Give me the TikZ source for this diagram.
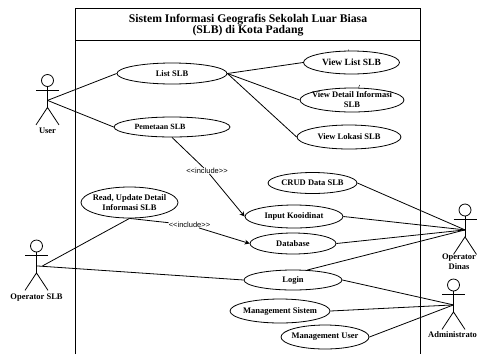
\documentclass[tikz,border=0pt]{standalone}
\usepackage{fontspec}
\setmainfont{Liberation Serif}
\setsansfont{Liberation Sans}
\usetikzlibrary{arrows.meta, shapes.geometric}
\tikzset{
 usecase/.style={draw, ellipse, inner sep=-25pt, thick, font=\fontsize{8.5}{10}\selectfont\bfseries, align=center},
 actorname/.style={font=\fontsize{8.5}{10}\selectfont\bfseries, align=center, inner sep=0pt},
 includetag/.style={font=\sffamily\fontsize{7.5}{8}\selectfont, inner sep=0pt, fill=white},
 assoc/.style={thick},
 includes/.style={thick, -{Stealth[length=5pt,width=5pt]}},
}
% #1 name, #2 head position
\newcommand{\actorfig}[2]{
 \node[draw, thick, circle, minimum size=12pt, inner sep=0pt] (#1head) at (#2) {};
 \coordinate (#1) at ([yshift=-13.5pt]#1head.south);
 \coordinate (#1hip) at ([yshift=-20.5pt]#1head.south);
 \draw[thick] (#1head.south) -- (#1hip);
 \draw[thick] ([xshift=-11.5pt,yshift=-3pt]#1head.south) -- ([xshift=11.5pt,yshift=-3pt]#1head.south);
 \draw[thick] ([xshift=-11.5pt,yshift=-17.5pt]#1hip) -- (#1hip) -- ([xshift=11.5pt,yshift=-17.5pt]#1hip);
}

\begin{document}
\begin{tikzpicture}[x=1pt,y=-1pt]
 \useasboundingbox (0,0) rectangle (478,354);
 % system box, open at the bottom
 \draw[thick] (75.5,354) -- (75.5,8) -- (420.5,8) -- (420.5,354);
 \draw[thick] (75.5,40.5) -- (420.5,40.5);
 \node[font=\fontsize{11.7}{11}\selectfont\bfseries, align=center] (title) at (248,25)
  {Sistem Informasi Geografis Sekolah Luar Biasa\\(SLB) di Kota Padang};

 \node[usecase, minimum width=110pt, minimum height=21pt] (list) at (172,73.5) {List SLB};
 \node[usecase, minimum width=116pt, minimum height=20pt, font=\fontsize{8}{9}\selectfont\bfseries] (peta) at (172,127) {Pemetaan SLB\hspace*{24pt}};
 \node[usecase, minimum width=96pt, minimum height=23pt, font=\fontsize{9.5}{10}\selectfont\bfseries] (viewlist) at (351.5,62.5) {View List SLB};
 \node[usecase, minimum width=104pt, minimum height=24pt] (viewdetail) at (352,100) {View Detail Informasi\\SLB};
 \node[usecase, minimum width=104pt, minimum height=24pt] (viewlokasi) at (349,137) {View Lokasi SLB};
 \node[usecase, minimum width=89pt, minimum height=21pt] (crud) at (312.5,183) {CRUD Data SLB};
 \node[usecase, minimum width=98pt, minimum height=23pt] (input) at (294,216.5) {Input Kooidinat};
 \node[usecase, minimum width=86pt, minimum height=21pt] (database) at (293,243.5) {Database};
 \node[usecase, minimum width=98pt, minimum height=20pt] (login) at (293,280) {Login};
 \node[usecase, minimum width=100pt, minimum height=24pt] (sistem) at (280,311) {Management Sistem};
 \node[usecase, minimum width=88pt, minimum height=24pt] (user) at (325,337) {Management User};
 \node[usecase, minimum width=97pt, minimum height=31pt] (read) at (129.5,202.5) {Read, Update Detail\\Informasi SLB};

 \actorfig{pengguna}{47.5,80.5}
 \actorfig{opslb}{36.5,246}
 \actorfig{opdinas}{465,210}
 \actorfig{admin}{453.5,285}
 \node[actorname] (penggunaname) at (47.5,130.5) {User};
 \node[actorname] (opslbname) at (36.5,297.5) {Operator SLB};
 \node[actorname] (opdinasname) at (459,262) {Operator\\Dinas};
 \node[actorname, anchor=west] (adminname) at (428,335) {Administrato};

 \draw[assoc] (pengguna) -- (list.west);
 \draw[assoc] (pengguna) -- (peta.west);
 \draw[assoc] (list.east) -- (viewlist.west);
 \draw[assoc] (list.east) -- (viewdetail.west);
 \draw[assoc] (list.east) -- (viewlokasi.west);
 \draw[assoc] ([xshift=6pt]opslb) -- (read.south);
 \draw[assoc] (opslb) -- (login.west);
 \draw[assoc] (opdinas) -- (crud.east);
 \draw[assoc] (opdinas) -- (input.east);
 \draw[assoc] (opdinas) -- (database.east);
 \draw[assoc] (opdinas) -- (login.35);
 \draw[assoc] (admin) -- (login.east);
 \draw[assoc] (admin) -- (sistem.east);
 \draw[assoc] (admin) -- (user.east);

 \node[includetag] (tagpeta) at (207,171) {<{}<include>{}>};
 \node[includetag] (tagread) at (189.5,225) {<{}<include>{}>};
 \draw[includes] (peta.south) -- (tagpeta) -- (input.west);
 \draw[includes] (read.south) -- (tagread) -- (database.west);

 % small marks above the view ellipses
 \coordinate (marka) at (348.5,49.5);
 \coordinate (markb) at (358.5,87.5);
 \draw (marka) -- ++(0.3,1.5);
 \draw (markb) -- ++(1.2,-2.5);
\end{tikzpicture}
\end{document}
